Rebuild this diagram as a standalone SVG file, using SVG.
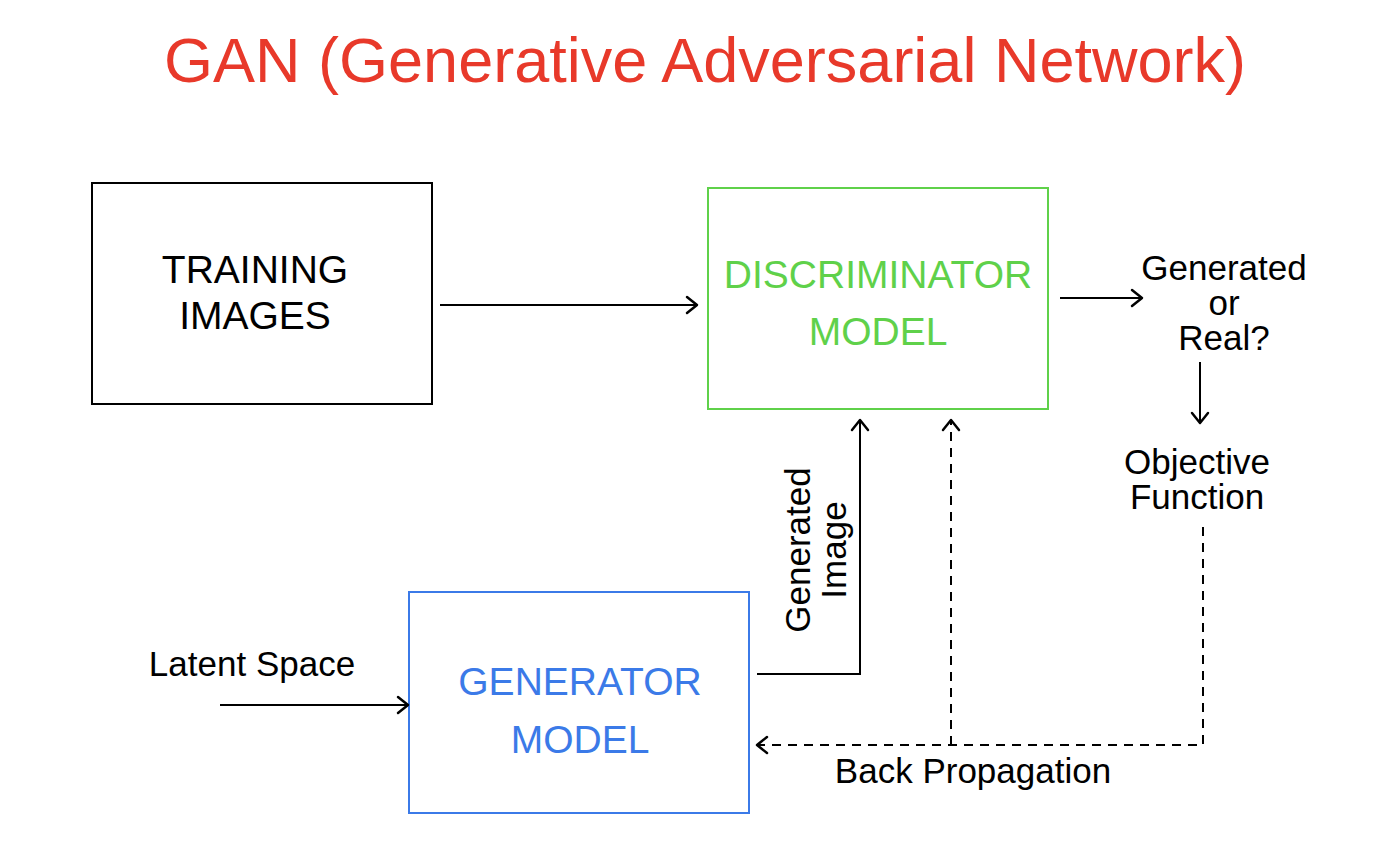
<svg xmlns="http://www.w3.org/2000/svg" width="1384" height="860" viewBox="0 0 1384 860">
<style>
text{font-family:"Liberation Sans",Arial,sans-serif;text-anchor:middle}
.t{font-size:39px}
.s{font-size:35px;fill:#000}
.ln{fill:none;stroke:#000;stroke-width:2}
.d{stroke-dasharray:9,7}
</style>
<defs>
<marker id="ah" viewBox="-12 -10 14 20" markerWidth="14" markerHeight="20" refX="0" refY="0" orient="auto" markerUnits="userSpaceOnUse">
<path d="M-10,-8 L0,0 L-10,8" fill="none" stroke="#000" stroke-width="2.5" stroke-linecap="round" stroke-linejoin="round"/>
</marker>
</defs>
<rect width="1384" height="860" fill="#fff"/>
<text x="705" y="82" font-size="63" fill="#e8392a">GAN (Generative Adversarial Network)</text>
<g id="training">
<rect x="92" y="183" width="340" height="221" fill="none" stroke="#000" stroke-width="2"/>
<text class="t" x="255" y="283">TRAINING</text>
<text class="t" x="255" y="329">IMAGES</text>
</g>
<g id="discriminator">
<rect x="708" y="188" width="340" height="221" fill="none" stroke="#5fd14a" stroke-width="2"/>
<text class="t" x="878" y="288" fill="#5fd14a">DISCRIMINATOR</text>
<text class="t" x="878" y="345" fill="#5fd14a">MODEL</text>
</g>
<g id="generator">
<rect x="409" y="592" width="340" height="221" fill="none" stroke="#3b7ae8" stroke-width="2"/>
<text class="t" x="580" y="695" fill="#3b7ae8">GENERATOR</text>
<text class="t" x="580" y="753" fill="#3b7ae8">MODEL</text>
</g>
<g id="output">
<text class="s" x="1224" y="280">Generated</text>
<text class="s" x="1224" y="315">or</text>
<text class="s" x="1224" y="350">Real?</text>
</g>
<g id="objective">
<text class="s" x="1197" y="474">Objective</text>
<text class="s" x="1197" y="509">Function</text>
</g>
<g id="latent">
<text class="s" x="252" y="676">Latent Space</text>
</g>
<g id="connectors">
<path class="ln" d="M440,305 H697" marker-end="url(#ah)"/>
<path class="ln" d="M1060,298 H1142" marker-end="url(#ah)"/>
<path class="ln" d="M1200,362 V423" marker-end="url(#ah)"/>
<path class="ln" d="M757,674 H860 V420" marker-end="url(#ah)"/>
<path class="ln" d="M220,705 H408" marker-end="url(#ah)"/>
<path class="ln d" d="M1203,527 V745 H757" marker-end="url(#ah)"/>
<path class="ln d" d="M951,745 V420" marker-end="url(#ah)"/>
<text class="s" x="973" y="783">Back Propagation</text>
<text class="s" transform="translate(810,550) rotate(-90)">Generated</text>
<text class="s" transform="translate(846,550) rotate(-90)">Image</text>
</g>
</svg>
